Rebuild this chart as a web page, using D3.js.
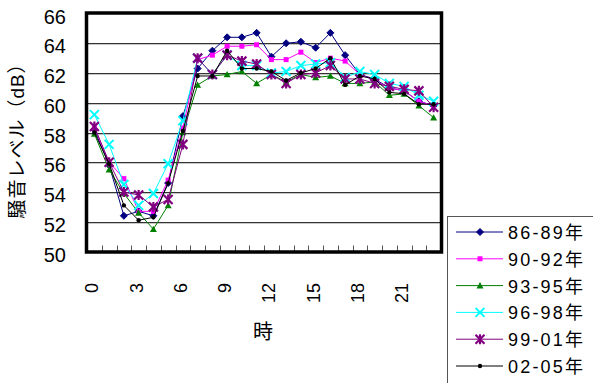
<!DOCTYPE html>
<html>
<head>
<meta charset="utf-8">
<script src="https://cdn.jsdelivr.net/npm/d3@7"></script>
<style>
  html, body { margin: 0; padding: 0; background: #fff; }
  svg { display: block; }
  text { font-family: "Liberation Sans", Arial, "Noto Sans CJK JP", sans-serif; fill: #000; }
</style>
</head>
<body>
<div id="chart"></div>
<script>
// Hour of day (0–23)
const hours = d3.range(24);
const hourTicks = [0, 3, 6, 9, 12, 15, 18, 21];
const yTicks = [50, 52, 54, 56, 58, 60, 62, 64, 66];

const seriesNames = ["86-89年", "90-92年", "93-95年", "96-98年", "99-01年", "02-05年"];
const seriesColors = ["#000080", "#FF00FF", "#008000", "#00FFFF", "#800080", "#000000"];
const seriesMarkers = ["diamond", "square", "triangle", "cross", "asterisk", "dot"];

// Hourly noise level (dB) averaged over each period
const s8689 = [58.2, 55.8, 52.4, 52.7, 52.4, 54.6, 59.1, 62.3, 63.5, 64.4, 64.4, 64.7, 63.1, 64.0, 64.1, 63.7, 64.7, 63.2, 61.9, 61.6, 61.0, 60.8, 60.1, 59.8];
const s9092 = [58.3, 56.0, 54.9, 52.7, 52.7, 54.8, 58.3, 62.9, 63.2, 63.8, 63.8, 63.9, 62.9, 62.9, 63.4, 62.7, 63.0, 62.8, 61.9, 61.5, 61.0, 60.8, 60.1, 59.8];
const s9395 = [57.9, 55.5, 53.9, 52.6, 51.5, 53.1, 58.0, 61.2, 61.8, 61.9, 62.1, 61.3, 61.9, 61.4, 61.9, 61.7, 61.8, 61.3, 61.3, 61.4, 60.5, 60.6, 59.8, 59.0];
const s9698 = [59.2, 57.2, 54.5, 53.1, 53.9, 55.9, 58.8, 63.0, 61.9, 63.2, 62.5, 62.5, 62.0, 62.1, 62.5, 62.6, 62.7, 61.7, 62.1, 61.9, 61.3, 61.1, 60.5, 60.1];
const s9901 = [58.4, 56.0, 54.0, 53.8, 53.0, 53.5, 57.2, 63.0, 61.9, 63.2, 62.8, 62.6, 61.9, 61.3, 61.9, 62.0, 62.5, 61.6, 61.6, 61.3, 61.1, 60.9, 60.8, 59.7];
const s0205 = [58.0, 55.9, 53.1, 52.1, 52.3, 54.6, 58.1, 61.8, 61.8, 63.5, 62.3, 62.3, 62.1, 61.5, 62.0, 62.3, 63.0, 61.2, 61.8, 61.6, 60.7, 60.6, 59.9, 59.9];
const seriesValues = [s8689, s9092, s9395, s9698, s9901, s0205];

const W = 593, H = 383;
const plot = { left: 87, right: 441, top: 13.5, bottom: 251.5 };

const svg = d3.select("#chart").append("svg")
  .attr("width", W).attr("height", H);

const x = d3.scaleBand().domain(hours).range([plot.left, plot.right]).paddingInner(0).paddingOuter(0);
const xc = h => x(h) + x.bandwidth() / 2;
const y = d3.scaleLinear().domain([50, 66]).range([plot.bottom, plot.top]);

// Horizontal gridlines with a faint shadow beneath
const grid = svg.append("g");
yTicks.filter(v => v > 50 && v < 66).forEach(v => {
  const yy = Math.round(y(v));
  grid.append("line").attr("x1", plot.left).attr("x2", plot.right)
    .attr("y1", yy + 0.5).attr("y2", yy + 0.5).attr("stroke", "#333").attr("stroke-width", 1);
  grid.append("line").attr("x1", plot.left).attr("x2", plot.right)
    .attr("y1", yy + 1.5).attr("y2", yy + 1.5).attr("stroke", "#c8c8c8").attr("stroke-width", 1);
});

// Category tick marks along the bottom, between hours
const tickG = svg.append("g");
d3.range(1, 24).forEach(i => {
  const xx = Math.round(x(i)) + 0.5;
  tickG.append("line").attr("x1", xx).attr("x2", xx)
    .attr("y1", plot.bottom - 6).attr("y2", plot.bottom)
    .attr("stroke", "#555").attr("stroke-width", 1);
});

// Series lines and markers
const line = d3.line().x((d, i) => xc(i)).y(d => y(d));

function drawMarker(g, type, cx, cy, color) {
  switch (type) {
    case "diamond":
      g.append("path").attr("d", `M${cx},${cy - 3.5}L${cx + 3.5},${cy}L${cx},${cy + 3.5}L${cx - 3.5},${cy}Z`)
        .attr("fill", color).attr("stroke", color);
      break;
    case "square":
      g.append("rect").attr("x", cx - 2.5).attr("y", cy - 2.5).attr("width", 5).attr("height", 5)
        .attr("fill", color);
      break;
    case "triangle":
      g.append("path").attr("d", `M${cx},${cy - 3.5}L${cx + 3.5},${cy + 2.8}L${cx - 3.5},${cy + 2.8}Z`)
        .attr("fill", color);
      break;
    case "cross":
      g.append("path").attr("d", `M${cx - 4.5},${cy - 4.5}L${cx + 4.5},${cy + 4.5}M${cx + 4.5},${cy - 4.5}L${cx - 4.5},${cy + 4.5}`)
        .attr("stroke", color).attr("stroke-width", 2).attr("fill", "none");
      break;
    case "asterisk":
      g.append("path").attr("d", `M${cx - 4.5},${cy - 4.5}L${cx + 4.5},${cy + 4.5}M${cx + 4.5},${cy - 4.5}L${cx - 4.5},${cy + 4.5}M${cx},${cy - 5}L${cx},${cy + 5}`)
        .attr("stroke", color).attr("stroke-width", 2.2).attr("fill", "none");
      break;
    case "dot":
      g.append("circle").attr("cx", cx).attr("cy", cy).attr("r", 2.2).attr("fill", color);
      break;
  }
}

seriesValues.forEach((vals, si) => {
  const g = svg.append("g");
  g.append("path").datum(vals).attr("d", line)
    .attr("fill", "none").attr("stroke", seriesColors[si]).attr("stroke-width", 1);
  vals.forEach((v, i) => drawMarker(g, seriesMarkers[si], xc(i), y(v), seriesColors[si]));
});

// Plot frame
svg.append("rect")
  .attr("x", plot.left - 0.5).attr("y", plot.top - 0.5)
  .attr("width", plot.right - plot.left + 1).attr("height", plot.bottom - plot.top + 1)
  .attr("fill", "none").attr("stroke", "#000").attr("stroke-width", 3.5);

// Y axis labels
const yAxisG = svg.append("g");
yTicks.forEach(v => {
  yAxisG.append("text").attr("x", 66).attr("y", y(v) + 3)
    .attr("text-anchor", "end").attr("dominant-baseline", "central")
    .attr("font-size", 20).text(v);
});

// X axis labels, rotated
const xAxisG = svg.append("g");
hourTicks.forEach(h => {
  xAxisG.append("text")
    .attr("transform", `translate(${xc(h) - 2},283) rotate(-90)`)
    .attr("text-anchor", "end").attr("dominant-baseline", "central")
    .attr("font-size", 18).text(h);
});

// Axis titles
svg.append("text").attr("x", 263).attr("y", 332)
  .attr("text-anchor", "middle").attr("dominant-baseline", "central")
  .attr("font-size", 20).text("時");

svg.append("text")
  .attr("transform", "translate(17,136) rotate(-90)")
  .attr("text-anchor", "middle").attr("dominant-baseline", "central")
  .attr("font-size", 19).attr("letter-spacing", 1).text("騒音レベル（dB）");

// Legend
const legend = svg.append("g");
legend.append("rect").attr("x", 447.5).attr("y", 216.5)
  .attr("width", 200).attr("height", 200)
  .attr("fill", "#fff").attr("stroke", "#555").attr("stroke-width", 1);

seriesNames.forEach((name, si) => {
  const ly = 232 + si * 26.8;
  legend.append("line").attr("x1", 456).attr("x2", 503).attr("y1", ly).attr("y2", ly)
    .attr("stroke", seriesColors[si]).attr("stroke-width", 1);
  drawMarker(legend, seriesMarkers[si], 480, ly, seriesColors[si]);
  legend.append("text").attr("x", 508).attr("y", ly + 1)
    .attr("dominant-baseline", "central").attr("font-size", 18)
    .attr("letter-spacing", 2.2).text(name);
});
</script>
</body>
</html>
